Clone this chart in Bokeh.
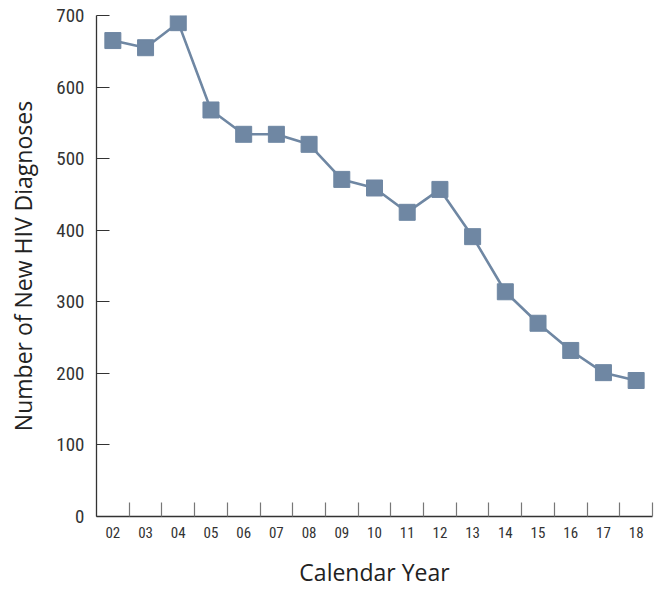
from bokeh.plotting import figure
from bokeh.models import FixedTicker, Range1d, ColumnDataSource
from bokeh.embed import file_html
from bokeh.resources import INLINE

years = ["02", "03", "04", "05", "06", "07", "08", "09", "10", "11", "12", "13", "14", "15", "16", "17", "18"]
diagnoses = [665, 655, 690, 568, 534, 534, 520, 471, 459, 425, 457, 391, 314, 270, 232, 201, 190]
y_ticks = [0, 100, 200, 300, 400, 500, 600, 700]

idx = list(range(len(years)))
src = ColumnDataSource(dict(x=idx, y=diagnoses))

COLOR = "#6f87a3"
NARROW = "'Roboto Condensed', 'Arial Narrow', 'Liberation Sans Narrow', 'DejaVu Sans Condensed', Roboto"
TITLE_FONT = "Open Sans"

p = figure(width=655, height=590, output_backend="svg", toolbar_location=None,
           x_range=Range1d(-0.5, len(years) - 0.5), y_range=Range1d(0, 700),
           min_border_left=96, min_border_right=3, min_border_top=15, min_border_bottom=74)
p.outline_line_color = None
p.grid.grid_line_color = None
p.background_fill_color = "white"
p.border_fill_color = "white"

p.line("x", "y", source=src, line_color=COLOR, line_width=2.6)
p.scatter("x", "y", source=src, marker="square", size=16, fill_color=COLOR, line_color=COLOR)

# x axis
xa = p.xaxis[0]
xa.ticker = FixedTicker(ticks=idx, minor_ticks=[i + 0.5 for i in idx])
xa.major_label_overrides = {i: y for i, y in zip(idx, years)}
xa.major_tick_line_color = None
xa.minor_tick_in = 14
xa.minor_tick_out = 0
xa.minor_tick_line_color = "#777777"
xa.minor_tick_line_width = 1.2
xa.axis_line_color = "#333333"
xa.axis_line_width = 1.3
xa.major_label_text_font = NARROW
xa.major_label_text_font_size = "15px"
xa.major_label_text_color = "#333333"
xa.major_label_standoff = 4
xa.axis_label = "Calendar Year"
xa.axis_label_text_font = TITLE_FONT
xa.axis_label_text_font_style = "normal"
xa.axis_label_text_font_size = "23px"
xa.axis_label_text_color = "#222222"
xa.axis_label_standoff = 15

# y axis
ya = p.yaxis[0]
ya.ticker = FixedTicker(ticks=y_ticks)
ya.minor_tick_line_color = None
ya.major_tick_in = 13
ya.major_tick_out = 0
ya.major_tick_line_color = "#333333"
ya.major_tick_line_width = 1.2
ya.axis_line_color = "#333333"
ya.axis_line_width = 1.3
ya.major_label_text_font = NARROW
ya.major_label_text_font_size = "19px"
ya.major_label_text_color = "#333333"
ya.major_label_standoff = 12
ya.axis_label = "Number of New HIV Diagnoses"
ya.axis_label_text_font = TITLE_FONT
ya.axis_label_text_font_style = "normal"
ya.axis_label_text_font_size = "23px"
ya.axis_label_text_color = "#222222"
ya.axis_label_standoff = 14

open("out.html", "w").write(file_html(p, INLINE))
